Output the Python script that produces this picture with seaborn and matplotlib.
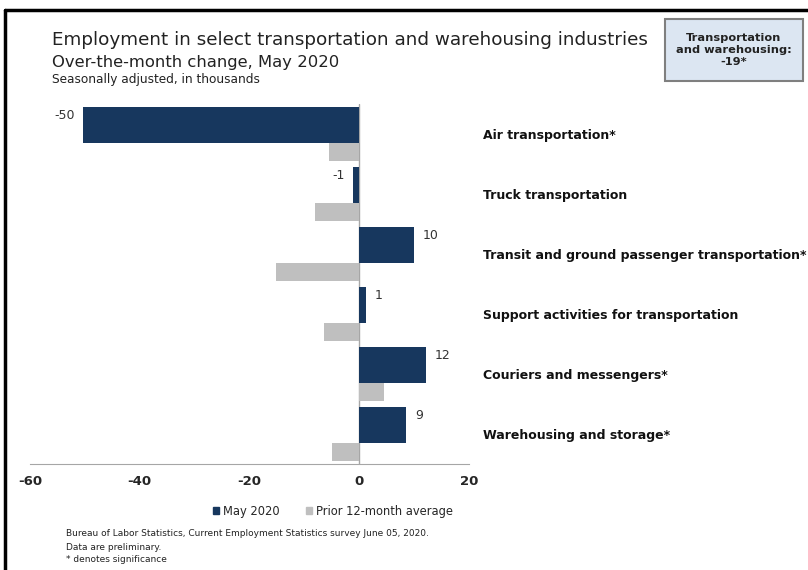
import matplotlib
matplotlib.use("Agg")
import matplotlib.pyplot as plt
import pandas as pd
import seaborn as sns
from matplotlib.patches import Patch, Rectangle
from matplotlib.lines import Line2D

# Data (thousands, over-the-month change)
categories = ["Air transportation*", "Truck transportation",
              "Transit and ground passenger transportation*",
              "Support activities for transportation",
              "Couriers and messengers*", "Warehousing and storage*"]
may_2020 = [-50.3, -1.2, 10.0, 1.3, 12.2, 8.6]
prior_avg = [-5.5, -8.0, -15.2, -6.5, 4.6, -4.9]
series_names = ["May 2020", "Prior 12-month average"]
x_ticks = [-60, -40, -20, 0, 20]

navy = "#17375e"
gray = "#bfbfbf"
axis_gray = "#a6a6a6"

df = pd.DataFrame({
    "industry": categories * 2,
    "value": may_2020 + prior_avg,
    "series": [series_names[0]] * len(categories) + [series_names[1]] * len(categories),
})

sns.set_style("white")
plt.rcParams["font.family"] = ["DejaVu Sans"]

fig = plt.figure(figsize=(8.08, 5.70), dpi=100)
ax = fig.add_axes([30 / 808, 1 - 464 / 570, 439 / 808, 360 / 570])

sns.barplot(data=df, x="value", y="industry", hue="series", hue_order=series_names,
            palette=[navy, gray], saturation=1, width=0.9, dodge=True,
            legend=False, linewidth=0, ax=ax)

# navy bars are thicker than the grey ones in the original
for rect in ax.containers[0]:
    rect.set_height(0.6)
for rect in ax.containers[1]:
    rect.set_y(rect.get_y() + 0.15)
    rect.set_height(0.3)

# value labels for May 2020
for rect, v in zip(ax.containers[0], may_2020):
    off = 6 if v >= 0 else -6
    ax.annotate(f"{v:.0f}", xy=(v, rect.get_y()), xytext=(off, -6),
                textcoords="offset points", ha="left" if v >= 0 else "right",
                va="center", fontsize=9, color="#333333")

ax.set_xlim(-60, 20)
ax.set_ylim(5.5, -0.5)
ax.set_xticks(x_ticks)
ax.set_xticklabels([str(t) for t in x_ticks], fontweight="bold", fontsize=9.5)
ax.axvline(0, color=axis_gray, lw=1, zorder=0)
ax.set_xlabel("")
ax.set_ylabel("")

for s in ["top", "right", "left"]:
    ax.spines[s].set_visible(False)
ax.spines["bottom"].set_color(axis_gray)
ax.tick_params(axis="x", direction="in", length=5, color=axis_gray, pad=8)
ax.yaxis.tick_right()
ax.tick_params(axis="y", length=0, pad=10)
for lab in ax.get_yticklabels():
    lab.set_fontweight("bold")
    lab.set_fontsize(9)
    lab.set_color("#111111")
    lab.set_va("center_baseline")

# titles
fig.text(52 / 808, 1 - 40 / 570, "Employment in select transportation and warehousing industries",
         fontsize=13.2, va="center", color="#222222")
fig.text(52 / 808, 1 - 62 / 570, "Over-the-month change, May 2020",
         fontsize=11.8, va="center", color="#222222")
fig.text(52 / 808, 1 - 80 / 570, "Seasonally adjusted, in thousands",
         fontsize=8.7, va="center", color="#222222")

# summary box
fig.add_artist(Rectangle((665 / 808, 1 - 81 / 570), 138 / 808, 62 / 570,
                         transform=fig.transFigure, facecolor="#dce6f2",
                         edgecolor="#7f7f7f", lw=1.5))
fig.text(734 / 808, 1 - 50 / 570, "Transportation\nand warehousing:\n-19*",
         ha="center", va="center", fontsize=8.2, fontweight="bold",
         linespacing=1.3, color="#222222")

# legend
handles = [Patch(color=navy), Patch(color=gray)]
fig.legend(handles, series_names, loc="center", bbox_to_anchor=(333 / 808, 1 - 511 / 570),
           ncol=2, frameon=False, handlelength=0.55, handleheight=0.55,
           handletextpad=0.3, columnspacing=2.3, fontsize=8.3)

# source notes
fig.text(66 / 808, 1 - 534 / 570,
         "Bureau of Labor Statistics, Current Employment Statistics survey June 05, 2020.",
         fontsize=6.5, va="center", color="#222222")
fig.text(66 / 808, 1 - 547 / 570, "Data are preliminary.", fontsize=6.5, va="center", color="#222222")
fig.text(66 / 808, 1 - 560 / 570, "* denotes significance", fontsize=6.5, va="center", color="#222222")

# outer frame (left and top edges)
fig.add_artist(Line2D([5 / 808, 5 / 808], [0, 1 - 10 / 570], color="black", lw=2.5,
                      transform=fig.transFigure))
fig.add_artist(Line2D([5 / 808, 1], [1 - 10 / 570, 1 - 10 / 570], color="black", lw=2.5,
                      transform=fig.transFigure))

fig.savefig("out.png", dpi=100)
